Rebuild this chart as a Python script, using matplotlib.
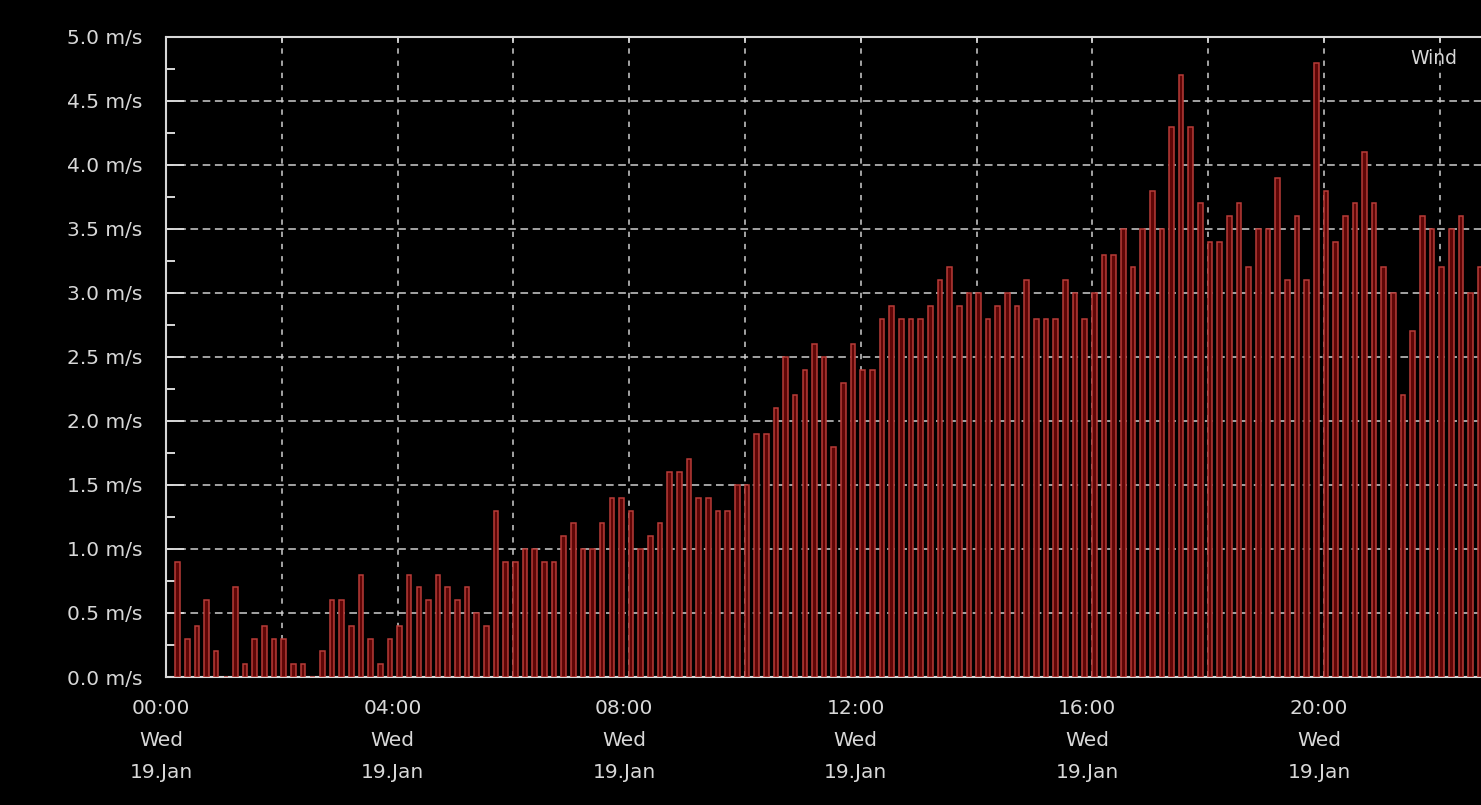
import matplotlib
matplotlib.use("Agg")
import matplotlib.pyplot as plt
import matplotlib.dates as mdates
from matplotlib.ticker import MultipleLocator, FuncFormatter
from matplotlib.transforms import ScaledTranslation
import pandas as pd

# wind speed (m/s), one reading roughly every 10 minutes from 00:12
wind = [0.9, 0.3, 0.4, 0.6, 0.2, 0.0, 0.7, 0.1, 0.3, 0.4, 0.3, 0.3, 0.1, 0.1, 0.0,
        0.2, 0.6, 0.6, 0.4, 0.8, 0.3, 0.1, 0.3,
        0.4, 0.8, 0.7, 0.6, 0.8, 0.7, 0.6, 0.7, 0.5, 0.4, 1.3, 0.9, 0.9, 1.0, 1.0,
        0.9, 0.9, 1.1, 1.2, 1.0, 1.0, 1.2,
        1.4, 1.4, 1.3, 1.0, 1.1, 1.2, 1.6, 1.6, 1.7, 1.4, 1.4, 1.3, 1.3, 1.5, 1.5,
        1.9, 1.9, 2.1, 2.5, 2.2, 2.4, 2.6, 2.5, 1.8,
        2.3, 2.6, 2.4, 2.4, 2.8, 2.9, 2.8, 2.8, 2.8, 2.9, 3.1, 3.2, 2.9, 3.0, 3.0,
        2.8, 2.9, 3.0, 2.9, 3.1, 2.8, 2.8, 2.8,
        3.1, 3.0, 2.8, 3.0, 3.3, 3.3, 3.5, 3.2, 3.5, 3.8, 3.5, 4.3, 4.7, 4.3, 3.7,
        3.4, 3.4, 3.6, 3.7, 3.2, 3.5, 3.5, 3.9, 3.1,
        3.6, 3.1, 4.8, 3.8, 3.4, 3.6, 3.7, 4.1, 3.7, 3.2, 3.0, 2.2, 2.7, 3.6, 3.5,
        3.2, 3.5, 3.6, 3.0, 3.2]
times = pd.date_range("2011-01-19 00:12", periods=len(wind), freq="10min")

day_start = pd.Timestamp("2011-01-19 00:00")
view_end = day_start + pd.Timedelta(hours=22.712)

fg = "#d8d8d8"
W, H = 1481, 805
fig = plt.figure(figsize=(W / 100, H / 100), dpi=100, facecolor="black")
ax = fig.add_axes([166 / W, (H - 677) / H, (W - 166) / W, 640 / H], facecolor="black")

bar_w = pd.Timedelta(minutes=4.8) / pd.Timedelta(days=1)
ax.bar(times, wind, width=bar_w, align="center",
       facecolor="#5e0505", edgecolor="#b83c38", linewidth=1.1, zorder=3)

ax.set_xlim(day_start, view_end)
ax.set_ylim(0, 5)

# y axis
ax.yaxis.set_major_locator(MultipleLocator(0.5))
ax.yaxis.set_minor_locator(MultipleLocator(0.25))
ax.yaxis.set_major_formatter(FuncFormatter(lambda v, p: f"{v:.1f} m/s"))
ax.tick_params(axis="y", which="major", direction="in", length=13, width=1.4,
               color=fg, labelcolor=fg, labelsize=14.5, pad=17)
ax.tick_params(axis="y", which="minor", direction="in", length=6.5, width=1.4, color=fg)

# x axis
ax.xaxis.set_major_locator(mdates.HourLocator(byhour=range(0, 24, 4)))
ax.xaxis.set_minor_locator(mdates.HourLocator(byhour=range(2, 24, 4)))
ax.xaxis.set_major_formatter(FuncFormatter(
    lambda v, p: mdates.num2date(v).strftime("%H:%M\n%a\n%d.%b")))
ax.tick_params(axis="x", which="both", direction="in", length=4, width=1.2,
               color=fg, labelcolor=fg, labelsize=14.5, pad=16, top=True)
for lbl in ax.get_xticklabels():
    lbl.set_linespacing(1.85)
    lbl.set_transform(lbl.get_transform() + ScaledTranslation(-5 / 100, 0, fig.dpi_scale_trans))

ax.grid(True, which="major", axis="y", color="#cfcfcf", linestyle=(0, (5, 3)), linewidth=1.1, zorder=1)
ax.grid(True, which="both", axis="x", color="#cfcfcf", linestyle=(0, (3.5, 4.5)), linewidth=1.1, zorder=1)
ax.set_axisbelow(True)

for side in ["left", "top", "bottom"]:
    ax.spines[side].set_color(fg)
    ax.spines[side].set_linewidth(1.5)
ax.spines["right"].set_visible(False)

fig.text(1434 / W, 1 - 58 / H, "Wind", color=fg, fontsize=13.5, ha="center", va="center")

fig.savefig("out.png", dpi=100, facecolor="black")
